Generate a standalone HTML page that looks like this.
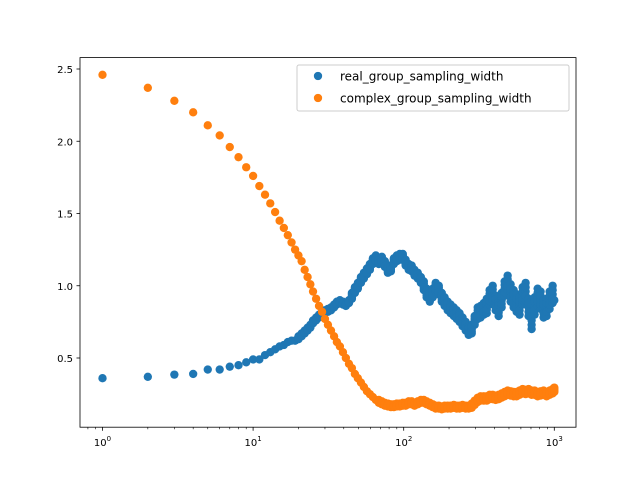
<!DOCTYPE html>
<html><head><meta charset="utf-8"><style>
body{margin:0;background:#fff}
svg{display:block;font-family:"DejaVu Sans","Liberation Sans",sans-serif}
</style></head><body>
<svg id="chart" width="640" height="480">
<rect x="0" y="0" width="640" height="480" fill="#fff"/>
<g id="marks"></g>
<rect x="80" y="57.6" width="496" height="369.6" fill="none" stroke="#000" stroke-width="0.8"/>
<g id="axes"></g>
<g>
<rect x="297" y="65" width="272" height="46" fill="#fff" fill-opacity="0.8" stroke="#ccc" rx="2"/>
<circle cx="318" cy="76" r="4.17" fill="#1f77b4"/>
<text x="340" y="80.5" font-size="12">real_group_sampling_width</text>
<circle cx="318" cy="98" r="4.17" fill="#ff7f0e"/>
<text x="340" y="102.5" font-size="12">complex_group_sampling_width</text>
</g>
</svg>
<script>
const xVals=[1,2,3,4,5,6,7,8,9,10,11,12,13,14,15,16,17,18,19,
20,21,22,23,24,25,26.2,27.4,28.7,30,31.4,32.9,34.5,36,37.7,39.5,41.3,43.3,45.3,47.4,49.6,52,54.4,57,59.6,62.4,65.3,68.4,71.6,75,78.5,82.2,86,90,94.2,98.6,103,108,113,118,124,130,136,142,149,156,163,171,179,187,196,205,215,225,235,246,258,270,283,296,310,324,340,356,372,390,408,427,447,468,490,513,537,562,588,616,645,675,707,740,775,811,849,889,931,975,1000];
const realY=[0.36,0.37,0.385,0.39,0.42,0.42,0.44,0.45,0.47,0.49,0.49,0.52,0.54,0.56,0.58,0.59,0.61,0.62,0.62,
0.64,0.66,0.68,0.70,0.72,0.75,0.77,0.79,0.81,0.82,0.83,0.84,0.86,0.88,0.89,0.88,0.87,0.89,0.93,0.97,1.00,1.04,1.07,1.10,1.13,1.17,1.19,1.17,1.18,1.15,1.11,1.12,1.17,1.19,1.20,1.20,1.16,1.13,1.12,1.09,1.07,1.04,1.00,0.95,0.92,0.95,0.99,0.97,0.92,0.89,0.86,0.84,0.82,0.80,0.78,0.75,0.72,0.69,0.70,0.76,0.81,0.82,0.84,0.86,0.92,0.95,0.88,0.84,0.90,0.98,1.02,0.95,0.91,0.88,0.86,0.93,0.96,0.85,0.76,0.86,0.92,0.90,0.84,0.85,0.90,0.94,0.90];
const realJ=[0,0,0,0,0,0,0,0,0,0,0,0,0,0,0,0,0,0,0,
0.01,0.01,0.01,0.01,0.01,0.01,0.01,0.01,0.01,0.01,0.01,0.01,0.01,0.01,0.01,0.01,0.01,0.01,0.02,0.02,0.02,0.02,0.02,0.02,0.02,0.02,0.02,0.02,0.02,0.02,0.02,0.02,0.02,0.02,0.02,0.02,0.02,0.02,0.02,0.02,0.02,0.02,0.03,0.03,0.03,0.03,0.03,0.03,0.03,0.03,0.03,0.03,0.03,0.03,0.03,0.03,0.03,0.03,0.03,0.03,0.04,0.04,0.04,0.05,0.05,0.05,0.05,0.05,0.05,0.05,0.05,0.06,0.06,0.06,0.06,0.06,0.06,0.06,0.06,0.06,0.06,0.06,0.06,0.06,0.06,0.06];
const cplxY=[2.46,2.37,2.28,2.20,2.11,2.04,1.96,1.89,1.82,1.76,1.69,1.63,1.57,1.51,1.45,1.40,1.35,1.30,1.25,
1.21,1.17,1.11,1.06,1.01,0.96,0.91,0.86,0.82,0.77,0.73,0.69,0.65,0.61,0.58,0.54,0.50,0.46,0.43,0.39,0.36,0.33,0.30,0.27,0.25,0.23,0.21,0.20,0.19,0.18,0.175,0.17,0.17,0.175,0.175,0.18,0.18,0.19,0.19,0.18,0.19,0.20,0.20,0.19,0.18,0.17,0.16,0.16,0.155,0.16,0.16,0.16,0.165,0.16,0.16,0.165,0.16,0.16,0.17,0.19,0.21,0.22,0.22,0.22,0.23,0.23,0.225,0.23,0.24,0.25,0.26,0.255,0.25,0.25,0.26,0.27,0.265,0.27,0.26,0.26,0.25,0.255,0.26,0.25,0.26,0.27,0.28];
const cplxJ=[0,0,0,0,0,0,0,0,0,0,0,0,0,0,0,0,0,0,0,
0,0,0,0,0,0,0,0,0,0,0,0,0,0,0,0,0,0,0,0,0,0,0,0,0,0,0,0.01,0.01,0.01,0.01,0.01,0.01,0.01,0.01,0.01,0.01,0.01,0.01,0.01,0.01,0.01,0.01,0.01,0.01,0.01,0.01,0.01,0.01,0.01,0.01,0.01,0.01,0.01,0.01,0.01,0.01,0.01,0.015,0.015,0.015,0.015,0.015,0.015,0.015,0.015,0.015,0.015,0.015,0.015,0.015,0.015,0.015,0.015,0.015,0.015,0.015,0.015,0.015,0.015,0.015,0.015,0.015,0.015,0.015,0.015,0.015];
const yTicks=[0.5,1.0,1.5,2.0,2.5];
const yTickLabels=["0.5","1.0","1.5","2.0","2.5"];
const xTicks=[1,10,100,1000];
const xTickExp=["0","1","2","3"];

const NS="http://www.w3.org/2000/svg";
function xs(v){return 102.5+Math.log10(v)*150.6;}
function ys(v){return 358+(0.5-v)*144.5;}
const marks=document.getElementById('marks');
const axes=document.getElementById('axes');
function dot(x,y,c,name){
  const el=document.createElementNS(NS,'circle');
  el.setAttribute('cx',xs(x));el.setAttribute('cy',ys(y));el.setAttribute('r',4.17);el.setAttribute('fill',c);
  
  
  marks.appendChild(el);
}
function series(X,Y,J,c,name){
  for(let i=0;i<X.length;i++){
    dot(X[i],Y[i],c,name);
    if(J[i]>0){
      dot(X[i],Y[i]+J[i],c,name);dot(X[i],Y[i]-J[i],c,name);
      dot(X[i],Y[i]+J[i]/2,c,name);dot(X[i],Y[i]-J[i]/2,c,name);
    }
  }
}
series(xVals,realY,realJ,'#1f77b4','real-point');
series(xVals,cplxY,cplxJ,'#ff7f0e','complex-point');
function line(x1,y1,x2,y2,w){const l=document.createElementNS(NS,'line');l.setAttribute('x1',x1);l.setAttribute('y1',y1);l.setAttribute('x2',x2);l.setAttribute('y2',y2);l.setAttribute('stroke','#000');l.setAttribute('stroke-width',w);return l;}
yTicks.forEach((v,i)=>{
  const y=ys(v);
  const l=line(76.5,y,80,y,0.8);
  
  
  axes.appendChild(l);
  const t=document.createElementNS(NS,'text');
  t.setAttribute('x',73);t.setAttribute('y',y+4);t.setAttribute('font-size','10');t.setAttribute('text-anchor','end');
  t.textContent=yTickLabels[i];
  
  
  axes.appendChild(t);
});
xTicks.forEach((v,i)=>{
  const x=xs(v);
  const l=line(x,427.2,x,430.7,0.8);
  
  
  axes.appendChild(l);
  const t=document.createElementNS(NS,'text');
  t.setAttribute('x',x);t.setAttribute('y',446);t.setAttribute('font-size','10');t.setAttribute('text-anchor','middle');
  t.innerHTML='10<tspan dy="-5" font-size="7">'+xTickExp[i]+'</tspan>';
  
  
  axes.appendChild(t);
  if(i<xTicks.length-1){
    for(let k=2;k<10;k++){
      const xm=xs(v*k);
      const m=line(xm,427.2,xm,429.2,0.6);
      
      
      axes.appendChild(m);
    }
  }
});
[0.8,0.9].forEach(f=>{const m=line(xs(f),427.2,xs(f),429.2,0.6);
  
  
  axes.appendChild(m);});
</script>
</body></html>
